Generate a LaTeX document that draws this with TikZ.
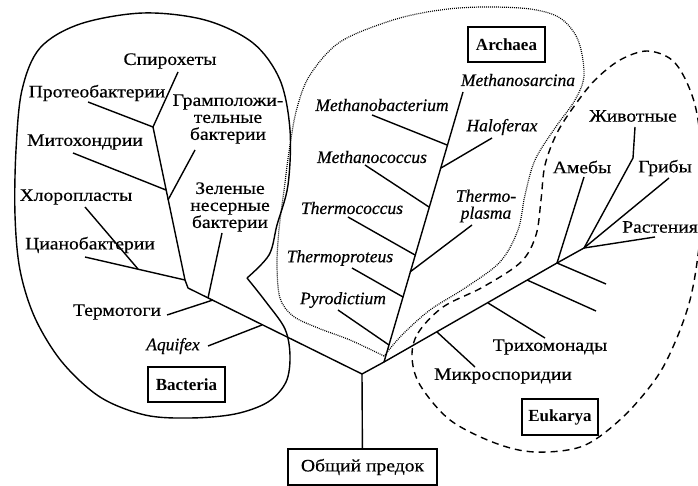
\documentclass[tikz,border=0pt]{standalone}
\usepackage{fontspec}
\setmainfont{Liberation Serif}
\newfontfamily\rufont[FakeStretch=1.12,FakeBold=0.5]{Liberation Serif}
\newfontfamily\latfont[FakeBold=0.5]{Liberation Serif}
\begin{document}
\begin{tikzpicture}[x=1pt,y=-1pt,
  lbl/.style={inner sep=0pt, font=\rufont\fontsize{17.5}{17}\selectfont},
  lat/.style={inner sep=0pt, font=\latfont\fontsize{17.5}{17}\selectfont\itshape},
  dombox/.style={draw, line width=1.6pt, fill=white, inner sep=0pt, font=\fontsize{17}{17}\selectfont\bfseries},
  rootbox/.style={draw, line width=1.3pt, fill=white, inner sep=0pt, minimum width=149pt, minimum height=36pt, font=\rufont\fontsize{17.5}{17}\selectfont},
  br/.style={line width=1.4pt, line join=round},
  bout/.style={line width=1.4pt},
  aout/.style={line width=1.2pt, dash pattern=on 0.9pt off 1.1pt},
  eout/.style={line width=1.4pt, dash pattern=on 7pt off 5pt}]
\useasboundingbox (0,0) rectangle (698,486);

% ---------- outlines ----------
\begin{scope}
\clip (0,0) rectangle (698,486);
% Bacteria (solid, with cusp)
\draw[bout] plot[smooth, tension=0.55] coordinates {(247,278) (266,302) (285,329) (290,356) (286,382) (268,402) (235,414) (190,418) (145,415) (100,397) (62,362) (35,318) (20,270) (15,215) (16,150) (22,90) (40,48) (80,24) (143,13) (205,20) (253,43) (280,80) (290,130) (288,185) (277,225) (269,255) (247,278)};
% Archaea (dotted)
\draw[aout] plot[smooth, tension=0.55] coordinates {(384,356) (350,340) (318,328) (293,316) (280,298) (277,265) (279,230) (284,190) (290,145) (297,108) (310,75) (340,42) (393,20) (440,10) (483,7) (530,9) (560,18) (578,40) (584,75) (575,100) (555,128) (535,160) (525,195) (518,230) (500,262) (465,288) (430,310) (402,335) (384,356)};
% Eukarya (dashed)
\draw[eout] plot[smooth cycle, tension=0.55] coordinates {(412,357) (418,333) (443,307) (483,287) (521,262) (536,235) (541,200) (545,165) (557,133) (575,105) (595,80) (620,60) (647,51) (672,60) (688,85) (698,120) (704,190) (698,255) (690,300) (676,340) (657,377) (623,417) (583,446) (535,452) (495,443) (450,420) (420,385)};
\end{scope}

% ---------- junction coordinates ----------
\coordinate (R) at (362,374);
\coordinate (A0) at (384,362);
% bacteria
\coordinate (bK) at (188,288);
\coordinate (bJ4) at (185,280);
\coordinate (bJ1) at (153,127);
\coordinate (bJ2) at (166,190);
\coordinate (bJ3) at (168,200);
\coordinate (bJc) at (138,269);
\coordinate (bJz) at (208,298);
\coordinate (bJt) at (213,300);
\coordinate (bJa) at (262,325);
\coordinate (bSp) at (178,72);
\coordinate (bPr) at (88,102);
\coordinate (bMi) at (73,153);
\coordinate (bGr) at (195,150);
\coordinate (bCh) at (85,207);
\coordinate (bCy) at (85,257);
\coordinate (bZe) at (222,233);
\coordinate (bTe) at (167,315);
\coordinate (bAq) at (208,346);
% archaea
\coordinate (aTop) at (463,92);
\coordinate (aJ1) at (447,145);
\coordinate (aJ2) at (441,168);
\coordinate (aJ3) at (429,207);
\coordinate (aJ4) at (415,255);
\coordinate (aJ5) at (410,272);
\coordinate (aJ6) at (403,297);
\coordinate (aJ7) at (389,345);
\coordinate (aMb) at (372,115);
\coordinate (aHa) at (492,138);
\coordinate (aMc) at (365,165);
\coordinate (aTc) at (348,217);
\coordinate (aTp) at (472,225);
\coordinate (aTr) at (352,268);
\coordinate (aPy) at (338,310);
% eukarya
\coordinate (eJ) at (557,263);
\coordinate (eK) at (584,248);
\coordinate (eAm) at (584,177);
\coordinate (eZh) at (635,127);
\coordinate (eZhK) at (633,158);
\coordinate (eGr) at (669,178);
\coordinate (eRa) at (655,237);
\coordinate (eB1) at (606,284);
\coordinate (eJ2) at (527,280);
\coordinate (eB2) at (596,311);
\coordinate (eJ3) at (488,303);
\coordinate (eTr) at (545,338);
\coordinate (eJ4) at (437,332);
\coordinate (eMi) at (475,367);

% ---------- labels ----------
\node[rootbox] (root) at (362.5,467) {Общий предок};
\node[dombox, minimum width=77pt, minimum height=35pt] (bact) at (186.5,384.5) {Bacteria};
\node[dombox, minimum width=77pt, minimum height=35pt] (arch) at (506.5,44.5) {Archaea};
\node[dombox, minimum width=76pt, minimum height=36pt] (euk) at (560,417) {Eukarya};

\node[lbl] (tSp) at (170,61) {Спирохеты};
\node[lbl] (tPr) at (97,93) {Протеобактерии};
\node[lbl, align=center] (tGr) at (228,119) {Грамположи-\\тельные\\бактерии};
\node[lbl] (tMi) at (85,142) {Митохондрии};
\node[lbl, align=center] (tZe) at (230,207) {Зеленые\\несерные\\бактерии};
\node[lbl] (tCh) at (76,197) {Хлоропласты};
\node[lbl] (tCy) at (90,245) {Цианобактерии};
\node[lbl] (tTe) at (117,312) {Термотоги};
\node[lat] (tAq) at (173,346) {Aquifex};

\node[lat] (tMs) at (518,80) {Methanosarcina};
\node[lat] (tMb) at (382,105) {Methanobacterium};
\node[lat] (tHa) at (502,127) {Haloferax};
\node[lat] (tMc) at (372,157) {Methanococcus};
\node[lat, align=center] (tTp) at (486,206) {Thermo-\\plasma};
\node[lat] (tTc) at (352,208) {Thermococcus};
\node[lat] (tTr) at (340,258) {Thermoproteus};
\node[lat] (tPy) at (343,300) {Pyrodictium};

\node[lbl] (tZh) at (633,116) {Животные};
\node[lbl] (tAm) at (582,167) {Амебы};
\node[lbl] (tGb) at (665,168) {Грибы};
\node[lbl] (tRa) at (660,227) {Растения};
\node[lbl] (tTr2) at (550,347) {Трихомонады};
\node[lbl] (tMi2) at (503,376) {Микроспоридии};

% ---------- tree ----------
\draw[br] (root) -- (R);
\draw[br] (R) -- (bK) -- (bJ4) -- (bJ1);
\draw[br] (R) -- (A0) -- (aTop);
\draw[br] (A0) -- (eJ) -- (eK);
% bacteria branches
\draw[br] (bSp) -- (bJ1);
\draw[br] (bPr) -- (bJ1);
\draw[br] (bMi) -- (bJ2);
\draw[br] (bGr) -- (bJ3);
\draw[br] (bCy) -- (bJ4);
\draw[br] (bCh) -- (bJc);
\draw[br] (bZe) -- (bJz);
\draw[br] (bTe) -- (bJt);
\draw[br] (bAq) -- (bJa);
% archaea branches
\draw[br] (aMb) -- (aJ1);
\draw[br] (aHa) -- (aJ2);
\draw[br] (aMc) -- (aJ3);
\draw[br] (aTc) -- (aJ4);
\draw[br] (aTp) -- (aJ5);
\draw[br] (aTr) -- (aJ6);
\draw[br] (aPy) -- (aJ7);
% eukarya branches
\draw[br] (eAm) -- (eJ);
\draw[br] (eJ) -- (eB1);
\draw[br] (eJ2) -- (eB2);
\draw[br] (eJ3) -- (eTr);
\draw[br] (eJ4) -- (eMi);
\draw[br] (eZh) -- (eZhK) -- (eK);
\draw[br] (eGr) -- (eK);
\draw[br] (eRa) -- (eK);
\end{tikzpicture}
\end{document}
